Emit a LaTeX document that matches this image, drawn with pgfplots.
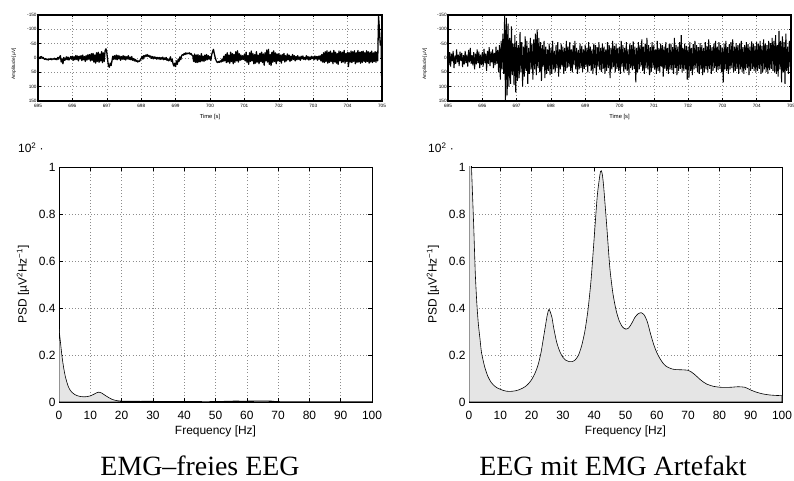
\documentclass[border=0pt]{standalone}
\usepackage{fontspec}
\setmainfont{Liberation Sans}
\newfontfamily\seriffont{Liberation Serif}
\usepackage{pgfplots}
\pgfplotsset{compat=1.18}
\pgfplotsset{
  matstyle/.style={
    scale only axis,
    axis line style={line width=0.9bp},
    tick style={line width=0.6bp, black},
    grid=major,
    major grid style={dash pattern=on 0.7bp off 2.5bp, black!45, line width=0.5bp},
    tick align=inside,
  },
  topstyle/.style={
    matstyle, width=344bp, height=86bp,
    xmin=695, xmax=705, ymin=-150, ymax=150, y dir=reverse,
    xtick={695,696,...,705}, ytick={-150,-100,-50,0,50,100,150},
    xticklabels={695,696,697,698,699,700,701,702,703,704,705},
    yticklabels={-150,-100,-50,0,50,100,150},
    major tick length=2.5bp,
    axis line style={line width=1.1bp},
    tick label style={font=\fontsize{4.7}{5.5}\selectfont, inner sep=1.2bp},
    xticklabel style={yshift=-1.5bp},
  },
  botstyle/.style={
    matstyle, width=313bp, height=235bp,
    xmin=0, xmax=100, ymin=0, ymax=1,
    xtick={0,10,...,100}, ytick={0,0.2,0.4,0.6,0.8,1},
    xticklabels={0,10,20,30,40,50,60,70,80,90,100},
    yticklabels={0,0.2,0.4,0.6,0.8,1},
    major tick length=4bp,
    tick label style={font=\fontsize{12}{14}\selectfont},
    xticklabel style={yshift=-6bp},
  },
}
\begin{document}
\begin{tikzpicture}
\path[use as bounding box] (0,0) rectangle (794bp,481bp);

% ---------- top left: EMG-free EEG time series ----------
\begin{axis}[topstyle, at={(38bp,380bp)}, anchor=south west]
\addplot[black, line width=1.3bp, line join=round] table[row sep=\\, header=false, x expr={695+\coordindex*0.025}, y index=0] {
0\\ -3\\ 2\\ -4\\ -5\\ 1\\ -2\\ 3\\ 5\\ 2\\ 6\\ 4\\ 7\\ 3\\ 5\\ 2\\ 6\\ 3\\ 4\\ 1\\
5\\ 2\\ 6\\ -2\\ 4\\ -3\\ -8\\ 14\\ 3\\ 20\\ -2\\ 8\\ 5\\ -4\\ 6\\ -3\\ 7\\ 2\\ -5\\ 4\\
-6\\ 8\\ -4\\ 6\\ -9\\ 5\\ -7\\ 10\\ -6\\ 3\\ -8\\ 9\\ -10\\ 6\\ -5\\ 12\\ -8\\ 7\\ -11\\ 4\\
-12\\ 10\\ -15\\ 8\\ -16\\ 14\\ -10\\ 18\\ -18\\ 12\\ -20\\ 15\\ -14\\ 10\\ -22\\ 16\\ -18\\ 12\\ -25\\ -32\\
-20\\ 8\\ 28\\ 32\\ 18\\ 26\\ 10\\ -6\\ 5\\ -8\\ 4\\ -10\\ 6\\ -9\\ 3\\ -7\\ 8\\ -5\\ 4\\ -8\\
5\\ -6\\ 7\\ -4\\ 3\\ -8\\ 5\\ -3\\ 6\\ -5\\ 8\\ 2\\ 10\\ 5\\ 12\\ 8\\ 14\\ 10\\ 12\\ 6\\
2\\ -6\\ 4\\ -8\\ -3\\ -10\\ -6\\ -12\\ -5\\ -9\\ -3\\ -7\\ 1\\ -5\\ 3\\ -4\\ 2\\ -3\\ 4\\ -2\\
3\\ -2\\ 5\\ -1\\ 4\\ -3\\ 6\\ 0\\ 5\\ -2\\ 8\\ 3\\ 10\\ 6\\ -4\\ 12\\ 4\\ 20\\ 28\\ 18\\
30\\ 10\\ 22\\ 4\\ 12\\ -4\\ 6\\ -8\\ -12\\ -10\\ -16\\ -12\\ -18\\ -14\\ -17\\ -15\\ -18\\ -13\\ -16\\ -10\\
-8\\ 12\\ -14\\ 15\\ -10\\ 16\\ -12\\ 14\\ -8\\ 13\\ -15\\ 10\\ -6\\ 12\\ -10\\ 8\\ -12\\ 6\\ -8\\ 4\\
-5\\ 8\\ -12\\ -22\\ -30\\ -15\\ -2\\ 8\\ 14\\ 16\\ 12\\ 15\\ 10\\ 14\\ 4\\ 12\\ -6\\ 10\\ -12\\ 16\\
-18\\ 14\\ -10\\ 18\\ -20\\ 12\\ -15\\ 20\\ -12\\ 15\\ -22\\ 10\\ -25\\ 14\\ -15\\ 8\\ -10\\ 6\\ -8\\ 5\\
-12\\ 10\\ -20\\ 15\\ -8\\ 22\\ -18\\ 12\\ -24\\ 10\\ -15\\ 20\\ -12\\ 18\\ -22\\ 14\\ -10\\ 20\\ -16\\ 12\\
-20\\ 16\\ -14\\ 25\\ -18\\ 10\\ -28\\ 14\\ -30\\ 22\\ -12\\ 26\\ -20\\ 15\\ -25\\ 12\\ -18\\ 20\\ -14\\ 10\\
-15\\ 12\\ -10\\ 18\\ -12\\ 8\\ -16\\ 14\\ -8\\ 10\\ -14\\ 6\\ -10\\ 12\\ -6\\ 8\\ -12\\ 5\\ -8\\ 10\\
-5\\ 6\\ -8\\ 4\\ -3\\ 8\\ -6\\ 3\\ -7\\ 5\\ -2\\ 6\\ -8\\ 4\\ -5\\ 7\\ -3\\ 5\\ -6\\ 2\\
-4\\ 6\\ -7\\ 3\\ -5\\ 8\\ -6\\ 4\\ -8\\ 10\\ -12\\ 14\\ -18\\ 16\\ -22\\ 12\\ -25\\ 18\\ -20\\ 15\\
-24\\ 12\\ -18\\ 20\\ -26\\ 14\\ -20\\ 18\\ -15\\ 22\\ -24\\ 10\\ -22\\ 16\\ -20\\ 14\\ -26\\ 18\\ -16\\ 12\\
-20\\ 30\\ -18\\ 14\\ -24\\ 16\\ -22\\ 12\\ -25\\ 20\\ -18\\ 15\\ -26\\ 14\\ -20\\ 18\\ -22\\ 16\\ -24\\ 12\\
-18\\ 15\\ -25\\ 12\\ -22\\ 18\\ -20\\ 14\\ -24\\ 16\\ -18\\ 12\\ -22\\ 15\\ -20\\ 10\\ -145\\ -100\\ -45\\ -60\\
150\\
};
\end{axis}

% ---------- top right: EEG with EMG artefact time series ----------
\begin{axis}[topstyle, width=343bp, at={(448bp,380bp)}, anchor=south west]
\addplot[black, line width=1.0bp] table[row sep=\\, header=false, x expr={695+\coordindex*0.025}, y index=0] {
-10\\ 25\\ -20\\ 30\\ -15\\ 12\\ -25\\ 35\\ -8\\ 20\\ -30\\ 15\\ -12\\ 28\\ -22\\ 10\\ -18\\ 32\\ -10\\ 22\\
-25\\ 18\\ -12\\ 30\\ -28\\ 15\\ -35\\ 20\\ -10\\ 26\\ -20\\ 40\\ -15\\ 22\\ -30\\ 18\\ -22\\ 35\\ -12\\ 25\\
-20\\ 30\\ -32\\ 18\\ -15\\ 45\\ -25\\ 20\\ -38\\ 28\\ -22\\ 15\\ -30\\ 35\\ -18\\ 25\\ -40\\ 20\\ -28\\ 50\\
-45\\ 75\\ -60\\ 40\\ -85\\ 55\\ -150\\ 150\\ -140\\ 130\\ -120\\ 100\\ -70\\ 90\\ -110\\ 60\\ -50\\ 95\\ -80\\ 120\\
-60\\ 80\\ -45\\ 70\\ -90\\ 50\\ -55\\ 100\\ -40\\ 65\\ -75\\ 45\\ -60\\ 90\\ -35\\ 55\\ -70\\ 40\\ -50\\ 75\\
-65\\ 40\\ -85\\ 60\\ -100\\ 35\\ -70\\ 50\\ -55\\ 80\\ -45\\ 30\\ -60\\ 70\\ -40\\ 55\\ -30\\ 45\\ -50\\ 60\\
-35\\ 55\\ -60\\ 40\\ -25\\ 50\\ -45\\ 35\\ -55\\ 65\\ -30\\ 40\\ -50\\ 30\\ -40\\ 55\\ -35\\ 45\\ -60\\ 35\\
-40\\ 30\\ -55\\ 45\\ -30\\ 50\\ -45\\ 25\\ -60\\ 40\\ -35\\ 55\\ -28\\ 40\\ -50\\ 35\\ -42\\ 48\\ -30\\ 38\\
-45\\ 30\\ -35\\ 50\\ -55\\ 28\\ -40\\ 45\\ -30\\ 55\\ -50\\ 35\\ -45\\ 60\\ -38\\ 30\\ -55\\ 42\\ -35\\ 48\\
-50\\ 38\\ -40\\ 55\\ -30\\ 45\\ -55\\ 35\\ -45\\ 70\\ -35\\ 40\\ -60\\ 32\\ -42\\ 50\\ -50\\ 38\\ -35\\ 45\\
-40\\ 55\\ -60\\ 30\\ -45\\ 50\\ -35\\ 40\\ -55\\ 45\\ -30\\ 60\\ -50\\ 35\\ -45\\ 42\\ -58\\ 38\\ -40\\ 85\\
-35\\ 50\\ -55\\ 40\\ -45\\ 30\\ -65\\ 45\\ -40\\ 55\\ -50\\ 35\\ -70\\ 40\\ -45\\ 60\\ -38\\ 48\\ -55\\ 35\\
-45\\ 40\\ -30\\ 55\\ -60\\ 45\\ -35\\ 50\\ -50\\ 30\\ -45\\ 65\\ -40\\ 38\\ -55\\ 45\\ -35\\ 55\\ -48\\ 40\\
-50\\ 42\\ -38\\ 55\\ -70\\ 35\\ -45\\ 60\\ -40\\ 45\\ -55\\ 38\\ -80\\ 50\\ -35\\ 45\\ -50\\ 40\\ -42\\ 75\\
-40\\ 70\\ -55\\ 45\\ -35\\ 60\\ -48\\ 40\\ -60\\ 35\\ -45\\ 50\\ -38\\ 55\\ -52\\ 40\\ -45\\ 60\\ -35\\ 48\\
-55\\ 40\\ -42\\ 50\\ -65\\ 38\\ -45\\ 55\\ -38\\ 45\\ -50\\ 35\\ -60\\ 48\\ -40\\ 42\\ -55\\ 38\\ -45\\ 50\\
-35\\ 85\\ -50\\ 40\\ -60\\ 45\\ -38\\ 55\\ -48\\ 40\\ -55\\ 35\\ -65\\ 50\\ -40\\ 45\\ -52\\ 38\\ -45\\ 55\\
-50\\ 40\\ -60\\ 48\\ -38\\ 55\\ -45\\ 42\\ -55\\ 35\\ -48\\ 60\\ -40\\ 45\\ -58\\ 38\\ -50\\ 45\\ -42\\ 50\\
-55\\ 45\\ -48\\ 38\\ -60\\ 55\\ -42\\ 50\\ -65\\ 40\\ -50\\ 48\\ -45\\ 55\\ -60\\ 42\\ -52\\ 38\\ -70\\ 45\\
-60\\ 50\\ -80\\ 55\\ -45\\ 65\\ -95\\ 40\\ -60\\ 85\\ -75\\ 50\\ -55\\ 90\\ -85\\ 45\\ -40\\ 55\\ -60\\ 30\\
0\\
};
\end{axis}

% ---------- bottom left: PSD EMG-free ----------
\begin{axis}[botstyle, at={(59bp,79bp)}, anchor=south west]
\addplot[black, line width=0.6bp, fill=black!10, smooth, tension=0.4] table {
x y
0 0.31
0.5 0.25
1 0.19
1.5 0.145
2 0.11
2.5 0.085
3 0.065
3.5 0.052
4 0.043
5 0.032
6 0.026
7 0.023
8 0.022
9 0.023
10 0.026
11 0.032
12 0.039
12.7 0.042
13.5 0.039
14 0.035
15 0.026
16 0.018
17 0.011
18 0.007
19 0.005
20 0.004
25 0.003
30 0.003
35 0.002
40 0.002
50 0.002
55 0.004
60 0.004
65 0.005
68 0.004
70 0.002
80 0.001
90 0.001
100 0.001
} \closedcycle;
\end{axis}

% ---------- bottom right: PSD with EMG artefact ----------
\begin{axis}[botstyle, at={(469bp,79bp)}, anchor=south west]
\addplot[black, line width=0.6bp, fill=black!10, smooth, tension=0.4] table {
x y
0 1.5
0.5 1.15
0.8 1.0
1.5 0.75
2 0.55
2.5 0.42
3 0.33
3.5 0.27
4 0.21
5 0.15
6 0.11
7 0.085
8 0.07
9 0.06
10 0.054
11 0.049
12 0.046
13 0.045
14 0.046
15 0.048
16 0.052
17 0.058
18 0.066
19 0.078
20 0.095
21 0.12
22 0.155
23 0.21
24 0.29
25 0.37
25.6 0.394
26.5 0.36
27 0.32
28 0.255
29 0.215
30 0.19
31 0.177
32 0.172
33 0.172
34 0.18
35 0.2
36 0.24
37 0.3
38 0.39
39 0.52
40 0.7
41 0.88
42 0.98
42.5 0.975
43 0.92
44 0.75
45 0.57
46 0.46
47 0.39
48 0.345
49 0.32
50 0.31
51 0.315
52 0.335
53 0.36
54 0.375
55 0.38
56 0.37
57 0.34
58 0.29
59 0.245
60 0.21
61 0.185
62 0.165
63 0.152
64 0.145
65 0.14
66 0.138
68 0.137
70 0.135
71 0.128
72 0.118
73 0.106
74 0.094
75 0.084
76 0.076
78 0.067
80 0.063
82 0.062
84 0.063
86 0.065
88 0.063
89 0.058
90 0.051
92 0.041
94 0.034
96 0.030
98 0.028
100 0.027
} \closedcycle;
\end{axis}

% ---------- labels ----------
\node[rotate=90, font=\fontsize{4.8}{5.5}\selectfont] at (14bp,417bp) {Amplitude [µV]};
\node[rotate=90, font=\fontsize{4.8}{5.5}\selectfont] at (425bp,417bp) {Amplitude [µV]};
\node[font=\fontsize{5.8}{6.5}\selectfont] at (210bp,363.5bp) {Time [s]};
\node[font=\fontsize{5.8}{6.5}\selectfont] at (619.5bp,363.5bp) {Time [s]};

\node[font=\fontsize{12}{14}\selectfont] at (215.5bp,50bp) {Frequency [Hz]};
\node[font=\fontsize{12}{14}\selectfont] at (625.5bp,50bp) {Frequency [Hz]};
\node[rotate=90, font=\fontsize{12}{14}\selectfont] at (23bp,196.5bp) {PSD [µV\textsuperscript{2}Hz\textsuperscript{−1}]};
\node[rotate=90, font=\fontsize{12}{14}\selectfont] at (433bp,196.5bp) {PSD [µV\textsuperscript{2}Hz\textsuperscript{−1}]};
\node[anchor=base west, inner sep=0pt, font=\fontsize{12}{14}\selectfont] at (18bp,328bp) {10\textsuperscript{2} ·};
\node[anchor=base west, inner sep=0pt, font=\fontsize{12}{14}\selectfont] at (428bp,328bp) {10\textsuperscript{2} ·};

\node[anchor=base, inner sep=0pt, text depth=0pt, font=\seriffont\fontsize{28}{32}\selectfont] at (200bp,6bp) {EMG–freies EEG};
\node[anchor=base, inner sep=0pt, text depth=0pt, font=\seriffont\fontsize{28}{32}\selectfont] at (613bp,6bp) {EEG mit EMG Artefakt};
\end{tikzpicture}
\end{document}
